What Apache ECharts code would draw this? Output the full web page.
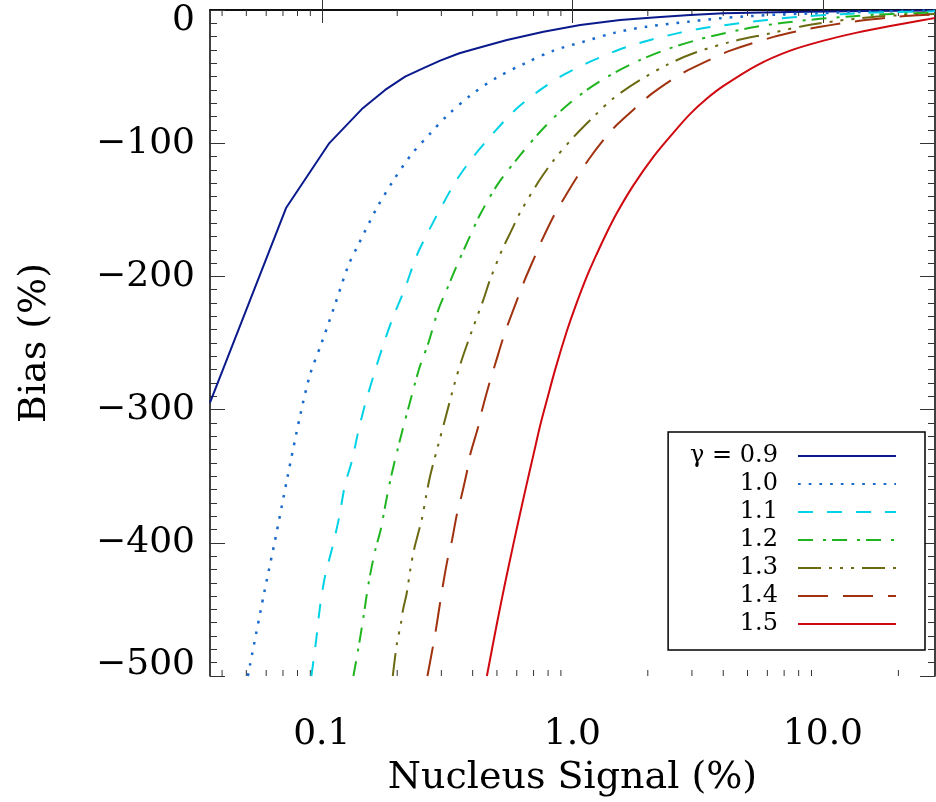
<!DOCTYPE html>
<html>
<head>
<meta charset="utf-8">
<script src="https://cdn.jsdelivr.net/npm/echarts@6/dist/echarts.min.js"></script>
<style>
  html, body { margin: 0; padding: 0; background: #fff; }
  #chart { width: 936px; height: 802px; }
</style>
</head>
<body>
<div id="chart"></div>
<script>
// series names (legend order)
const gammaNames = ['γ = 0.9', '1.0', '1.1', '1.2', '1.3', '1.4', '1.5'];

// x axis labels / ticks
const xTickValues = [0.1, 1, 10];
const xTickLabels = ['0.1', '1.0', '10.0'];
const xMinorTicks = [0.04, 0.05, 0.06, 0.07, 0.08, 0.09,
  0.2, 0.3, 0.4, 0.5, 0.6, 0.7, 0.8, 0.9,
  2, 3, 4, 5, 6, 7, 8, 9, 20];

// values: nucleus signal (%) -> bias (%)
const g09X = [0.0358, 0.0720, 0.1072, 0.1445, 0.179, 0.215, 0.2545, 0.2967, 0.354, 0.403, 0.548, 0.767, 1.075, 1.55, 2.17, 2.95, 4.01, 7.4, 15, 28];
const g09Y = [-294.8, -148.7, -99.9, -74.4, -60, -50, -43.7, -38, -32.5, -29.5, -22.5, -16.3, -11.2, -7.5, -5.5, -3.7, -2.5, -1.5, -0.75, -0.4];

const g10X = [0.0507, 0.0590, 0.0651, 0.0729, 0.0819, 0.0898, 0.0994, 0.1130, 0.1277, 0.1392, 0.1658, 0.1920, 0.2273, 0.2731, 0.3155, 0.3945, 0.4995, 0.648, 0.8406, 1.107, 1.482, 1.983, 2.907, 3.89, 5.21, 6.96, 9.32, 12.47, 16.63, 28];
const g10Y = [-500, -436.8, -398, -351, -304.8, -273.6, -251, -221, -191.7, -177, -148.7, -128.7, -108.7, -92, -79.5, -63.7, -50.7, -40, -30.5, -23.8, -17, -12.5, -8.8, -6.2, -4.5, -3.2, -2.5, -1.7, -1.1, -0.5];

const g11X = [0.0909, 0.0949, 0.0985, 0.1031, 0.1106, 0.1176, 0.1239, 0.1317, 0.1400, 0.1489, 0.1622, 0.1762, 0.1931, 0.2151, 0.2378, 0.2585, 0.3057, 0.3458, 0.4029, 0.4842, 0.591, 0.7439, 0.9215, 1.178, 1.551, 2.045, 2.694, 3.187, 4.397, 5.976, 7.874, 10.69, 14.48, 18.56, 28];
const g11Y = [-500, -473.5, -447.3, -424.8, -402.3, -379.8, -356, -339, -316, -296, -272.3, -251, -230, -208.6, -185.5, -171, -145, -127.4, -110, -92.4, -75, -60, -48.7, -38.8, -29.5, -22.5, -17, -14.2, -10.5, -7.5, -5.2, -3.6, -2.3, -1.6, -1];

const g12X = [0.1337, 0.1392, 0.1466, 0.1535, 0.1632, 0.1720, 0.1801, 0.1903, 0.2087, 0.2237, 0.2453, 0.2663, 0.2920, 0.3155, 0.3404, 0.3847, 0.4284, 0.5070, 0.6190, 0.7439, 0.9215, 1.1426, 1.459, 1.865, 2.384, 3.141, 3.775, 5.127, 6.96, 9.755, 12.85, 16.43, 21.64, 28];
const g12Y = [-500, -481.8, -456, -431, -406, -389.8, -369.8, -348, -317.3, -296, -268.6, -249.9, -224.9, -209.9, -194.9, -172.4, -153.5, -130, -109, -91.4, -74, -60, -47.5, -37.5, -29.5, -22.5, -18.7, -13.4, -9.6, -6.6, -4.8, -3.4, -2.6, -2];

const g13X = [0.1920, 0.1993, 0.2067, 0.2106, 0.2185, 0.2252, 0.2336, 0.2507, 0.2609, 0.2706, 0.2920, 0.3105, 0.3382, 0.3622, 0.3969, 0.4416, 0.4696, 0.5230, 0.5734, 0.6190, 0.7324, 0.8406, 1.0101, 1.233, 1.459, 1.865, 2.384, 3.043, 4.265, 6.162, 8.367, 11.37, 15.45, 20.36, 28];
const g13Y = [-500, -476, -461, -451, -437.3, -421, -404.8, -382.3, -364.8, -349.8, -326, -307.3, -281, -262.4, -241.1, -217.4, -202.4, -180.5, -164.9, -152, -129, -113, -95.5, -79, -66.2, -52.5, -41.2, -32.5, -24, -17.5, -12, -8.2, -5.4, -3.9, -3];

const g14X = [0.2640, 0.2773, 0.2860, 0.2967, 0.3041, 0.3172, 0.3304, 0.3458, 0.3598, 0.3792, 0.3908, 0.4218, 0.4352, 0.4668, 0.4918, 0.5309, 0.5557, 0.6092, 0.6421, 0.7103, 0.7553, 0.8406, 0.9215, 1.0423, 1.1594, 1.331, 1.505, 1.809, 2.045, 2.533, 2.907, 3.659, 4.265, 6.351, 8.118, 9.755, 12.08, 14.52, 18.56, 22.31, 28];
const g14Y = [-500, -478.5, -464, -444.8, -432.3, -413, -398.6, -379, -366, -347, -334, -312.4, -301, -280, -266, -245.5, -234.9, -214.9, -203.7, -184.5, -173, -155, -142, -125.5, -112.4, -97.5, -86.2, -72.5, -63.7, -51.5, -45, -36, -30.5, -20.2, -15.4, -12.6, -9.8, -7.7, -5.6, -4.3, -3.3];

const g15X = [0.4559, 0.4995, 0.5392, 0.5816, 0.6288, 0.6681, 0.6992, 0.7439, 0.7910, 0.8537, 0.9506, 1.026, 1.1426, 1.2524, 1.3729, 1.505, 1.754, 2.108, 2.533, 2.953, 3.443, 4.010, 5.452, 7.405, 10.06, 13.67, 18.56, 25.22, 28];
const g15Y = [-500, -461, -430, -401, -372, -350, -334, -312, -293, -270, -241, -223, -200, -183, -167, -152.4, -131.5, -110, -92, -78, -66.5, -57, -41.5, -30.5, -23, -17, -12, -7.5, -6];

const curves = [[g09X, g09Y], [g10X, g10Y], [g11X, g11Y], [g12X, g12Y], [g13X, g13Y], [g14X, g14Y], [g15X, g15Y]];
const colors = ['#0a1a8c', '#1a6acc', '#00d2e6', '#1fb51f', '#6b6a12', '#a0320f', '#d0080f'];
const dashes = ['solid', [2.7, 8], [15, 14], [15, 10, 3, 6], [23, 8, 3, 8, 3, 8, 3, 8], [30, 15], 'solid'];
const widths = [2, 2.5, 2, 2, 2, 2, 2];
const smoothing = [false, 0.3, 0.3, 0.3, 0.3, 0.3, 0.3];

const FONT = 'DejaVu Serif';
const X_MIN = 0.0358, X_MAX = 28, Y_MIN = -500, Y_MAX = 0;

const chart = echarts.init(document.getElementById('chart'));

function xLabel(v) {
  const i = xTickValues.findIndex(t => Math.abs(Math.log10(v) - Math.log10(t)) < 1e-6);
  return i >= 0 ? xTickLabels[i] : '';
}

const axisLineStyle = { color: '#000', width: 1.5 };
const tickStyle = { color: '#333', width: 1 };

const lineSeries = curves.map((c, i) => ({
  name: gammaNames[i],
  type: 'line',
  data: c[0].map((x, j) => [x, c[1][j]]),
  symbol: 'none',
  smooth: smoothing[i],
  clip: true,
  color: colors[i],
  lineStyle: { color: colors[i], width: widths[i], type: dashes[i], cap: 'butt' },
  z: 3
}));

const option = {
  animation: false,
  backgroundColor: '#fff',
  grid: { left: 210, right: 1, top: 10, bottom: 125 },
  xAxis: [{
    type: 'log',
    min: X_MIN, max: X_MAX,
    name: 'Nucleus Signal (%)',
    nameLocation: 'middle',
    nameGap: 83,
    nameTextStyle: { fontFamily: FONT, fontSize: 38, color: '#000' },
    axisLine: { lineStyle: axisLineStyle },
    axisTick: { inside: true, length: 13, lineStyle: tickStyle },
    axisLabel: { formatter: xLabel, fontFamily: FONT, fontSize: 36, color: '#000', margin: 41, showMinLabel: false, showMaxLabel: false },
    splitLine: { show: false }
  }, {
    type: 'log',
    position: 'top',
    min: X_MIN, max: X_MAX,
    axisLine: { lineStyle: axisLineStyle },
    axisTick: { inside: true, length: 13, lineStyle: tickStyle },
    axisLabel: { show: false },
    splitLine: { show: false }
  }],
  yAxis: [{
    type: 'value',
    min: Y_MIN, max: Y_MAX, interval: 100,
    name: 'Bias (%)',
    nameLocation: 'middle',
    nameGap: 156,
    nameTextStyle: { fontFamily: FONT, fontSize: 38, color: '#000' },
    axisLine: { show: true, lineStyle: axisLineStyle },
    axisTick: { show: true, inside: true, length: 15, lineStyle: tickStyle },
    minorTick: { show: true, splitNumber: 10, length: 7, lineStyle: tickStyle },
    axisLabel: {
      formatter: v => (v < 0 ? '\u2212' + Math.abs(v) : String(v)),
      fontFamily: FONT, fontSize: 36, color: '#000', margin: 15, lineHeight: 22,
      verticalAlignMinLabel: 'bottom', verticalAlignMaxLabel: 'top'
    },
    splitLine: { show: false }
  }, {
    type: 'value',
    position: 'right',
    min: Y_MIN, max: Y_MAX, interval: 100,
    axisLine: { show: true, lineStyle: axisLineStyle },
    axisTick: { show: true, inside: true, length: 15, lineStyle: tickStyle },
    minorTick: { show: true, splitNumber: 10, length: 7, lineStyle: tickStyle },
    axisLabel: { show: false },
    splitLine: { show: false }
  }],
  legend: {
    data: gammaNames,
    orient: 'vertical',
    align: 'right',
    right: 11,
    top: 432,
    padding: [12, 28, 14, 22],
    itemWidth: 98,
    itemHeight: 14,
    itemGap: 4,
    borderColor: '#000',
    borderWidth: 1.5,
    borderRadius: 0,
    backgroundColor: '#fff',
    selectedMode: false,
    itemStyle: { opacity: 0 },
    textStyle: { fontFamily: FONT, fontSize: 24, color: '#000', lineHeight: 14, padding: [0, 15, 0, 0] }
  },
  series: lineSeries.concat([{
    type: 'custom',
    silent: true,
    clip: false,
    z: 2,
    data: xMinorTicks.map(v => [v, 0]),
    renderItem: (params, api) => {
      const x = api.value(0);
      const b = api.coord([x, Y_MIN]);
      const t = api.coord([x, Y_MAX]);
      return {
        type: 'group',
        children: [
          { type: 'line', shape: { x1: b[0], y1: b[1], x2: b[0], y2: b[1] - 6 }, style: { stroke: '#333', lineWidth: 1 } },
          { type: 'line', shape: { x1: t[0], y1: t[1], x2: t[0], y2: t[1] + 6 }, style: { stroke: '#333', lineWidth: 1 } }
        ]
      };
    }
  }])
};

chart.setOption(option);
</script>
</body>
</html>
